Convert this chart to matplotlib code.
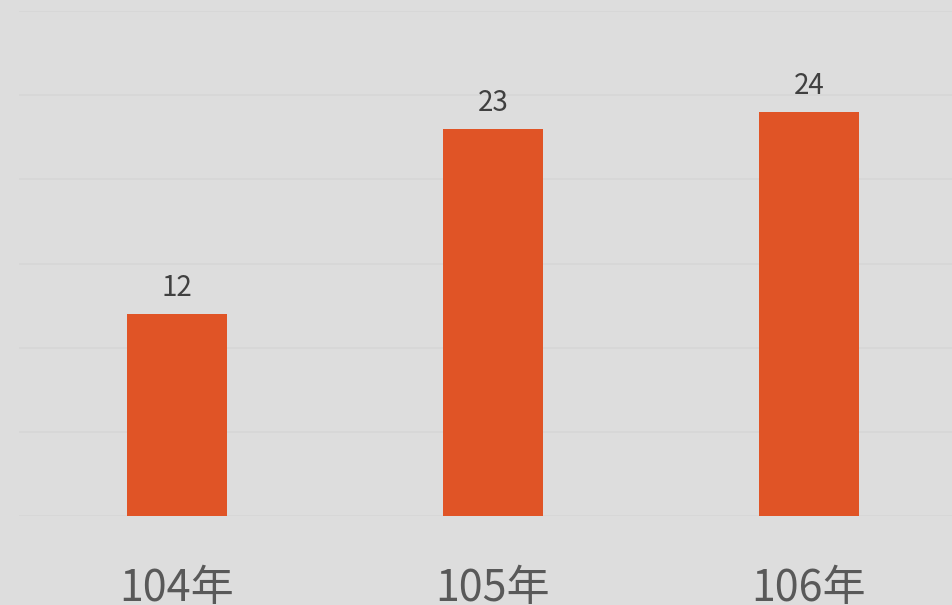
import matplotlib
matplotlib.use("Agg")
import matplotlib.pyplot as plt

# Daten
categories = ["104年", "105年", "106年"]
values = [12, 23, 24]

BG = "#dddddd"
BAR = "#e05426"
plt.rcParams["font.family"] = ["Noto Sans CJK TC", "DejaVu Sans"]

fig = plt.figure(figsize=(9.53, 6.05), dpi=100, facecolor=BG)
ax = fig.add_axes([19 / 953, 89 / 605, 948 / 953, 505 / 605])
ax.set_facecolor(BG)

x = range(len(categories))
bars = ax.bar(x, values, width=0.316, color=BAR, zorder=3)

ax.set_xlim(-0.5, 2.5)
ax.set_ylim(0, 30)
ax.set_yticks(range(0, 31, 5))
ax.yaxis.grid(True, color="#d6d6d6", linewidth=1.2, zorder=0)
ax.tick_params(axis="y", left=False, labelleft=False)
ax.tick_params(axis="x", length=0, pad=37, labelsize=31, labelcolor="#595959")
ax.set_xticks(list(x))
ax.set_xticklabels(categories)
for s in ax.spines.values():
    s.set_visible(False)

# Werte ueber den Balken
for b, v in zip(bars, values):
    ax.annotate(str(v), (b.get_x() + b.get_width() / 2, v),
                xytext=(0, 13), textcoords="offset points",
                ha="center", va="baseline", fontsize=20, color="#404040")

fig.savefig("out.png", dpi=100, facecolor=BG)
